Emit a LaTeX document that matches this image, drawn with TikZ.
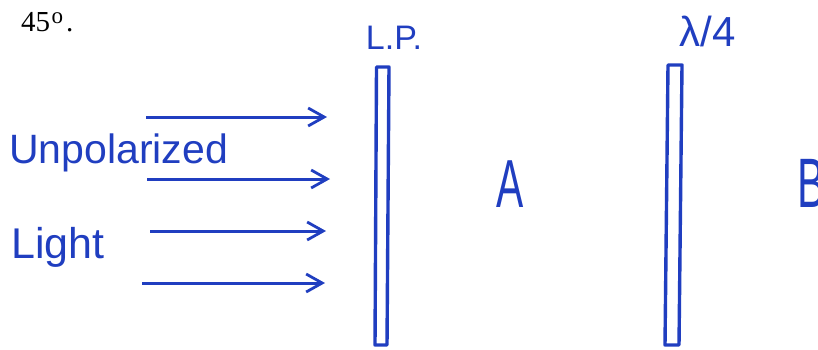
\documentclass[tikz,border=0pt]{standalone}
\usepackage{fontspec}
\setmainfont{Liberation Serif}
\newfontfamily\handfont{Liberation Sans}
\usetikzlibrary{arrows.meta}
\definecolor{ink}{RGB}{32,62,192}
\begin{document}
\begin{tikzpicture}[x=1pt,y=-1pt,
  ray/.style={draw=ink,line width=3pt,-{Straight Barb[length=16pt,width=18pt,line width=2.8pt]}},
  plate/.style={draw=ink,line width=3.4pt,line join=round},
  hand/.style={text=ink,inner sep=0pt,font=\handfont}]
\useasboundingbox (0,0) rectangle (818,349);
% top-left text
\node[anchor=base west,inner sep=0pt,font=\fontsize{29}{32}\selectfont] (deg) at (21,31) {45\kern1.5pt\raisebox{8pt}{\fontsize{23}{23}\selectfont o}\kern3pt.};
% labels
\node[hand,anchor=base west,font=\handfont\fontsize{41}{46}\selectfont] (unpol) at (9,163) {Unpolarized};
\node[hand,anchor=base west,font=\handfont\fontsize{43}{46}\selectfont] (light) at (11,258) {Light};
\node[hand,font=\handfont\fontsize{34}{38}\selectfont] (lp) at (394,38) {L.P.};
\node[hand,font=\handfont\fontsize{42}{46}\selectfont] (qw) at (708,31) {λ/4};
\node[hand,xscale=0.6,anchor=base,font=\handfont\fontsize{68}{72}\selectfont] (A) at (510,207) {A};
\node[hand,xscale=0.6,anchor=base west,font=\handfont\fontsize{70}{74}\selectfont] (B) at (797,207) {B};
% arrows
\coordinate (a1s) at (146,117); \coordinate (a1e) at (327,117);
\coordinate (a2s) at (147,179); \coordinate (a2e) at (330,179);
\coordinate (a3s) at (150,231); \coordinate (a3e) at (326,231);
\coordinate (a4s) at (142,283); \coordinate (a4e) at (325,283);
\draw[ray] (a1s) -- (a1e);
\draw[ray] (a2s) -- (a2e);
\draw[ray] (a3s) -- (a3e);
\draw[ray] (a4s) -- (a4e);
% plates
\draw[plate] (376.5,67) -- (389,67) -- (387,345) -- (375,345) -- cycle;
\draw[plate] (668,65) -- (682,65) -- (679,345) -- (665,345) -- cycle;
\end{tikzpicture}
\end{document}
